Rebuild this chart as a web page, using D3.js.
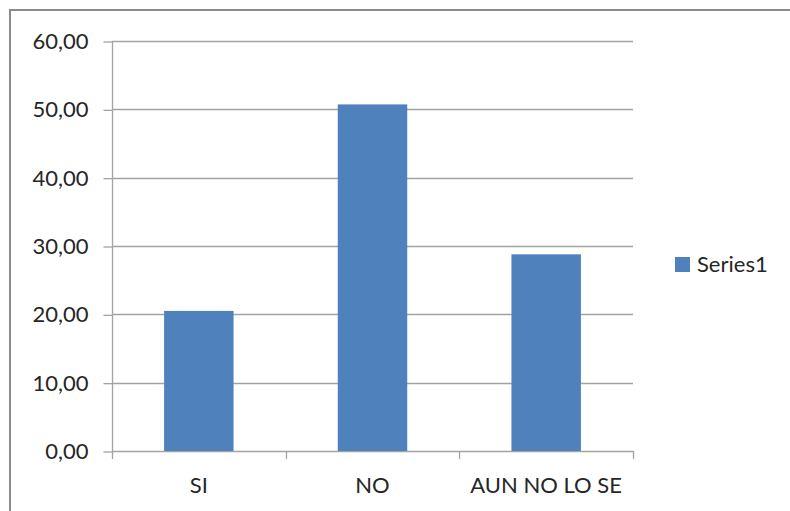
<!DOCTYPE html>
<html>
<head>
<meta charset="utf-8">
<script src="https://cdn.jsdelivr.net/npm/d3@7"></script>
<style>
  html, body { margin: 0; padding: 0; background: #fff; }
  svg { display: block; }
  text { font-family: Lato, "Open Sans", sans-serif; fill: #262626; }
</style>
</head>
<body>
<svg id="chart" width="790" height="511"></svg>
<script>
// Survey answers (percent)
const categories = ["SI", "NO", "AUN NO LO SE"];
const values = [20.50, 50.72, 28.78];
const yTicks = [0, 10, 20, 30, 40, 50, 60];
const seriesName = "Series1";

const W = 790, H = 511;
const plot = { left: 112, right: 633, top: 41, bottom: 451 };
const barColor = "#4f81bd";
const gridColor = "#a3a3a3";
const fontFamily = "Lato, 'Open Sans', sans-serif";
const fontSize = 22;

const svg = d3.select("#chart");

// outer chart frame (left and top edges visible)
svg.append("path")
  .attr("d", `M10,${H} L10,10 L${W},10`)
  .attr("fill", "none")
  .attr("stroke", "#8a8a8a")
  .attr("stroke-width", 2);

const fmt = d3.formatLocale({ decimal: ",", thousands: ".", grouping: [3], currency: ["", "€"] }).format(".2f");

const y = d3.scaleLinear().domain([0, 60]).range([plot.bottom, plot.top]);
const x = d3.scaleBand().domain(categories).range([plot.left, plot.right]).padding(0);

// horizontal gridlines
svg.append("g")
  .selectAll("line")
  .data(yTicks)
  .join("line")
  .attr("x1", plot.left)
  .attr("x2", plot.right)
  .attr("y1", d => Math.round(y(d)) + 0.5)
  .attr("y2", d => Math.round(y(d)) + 0.5)
  .attr("stroke", gridColor)
  .attr("stroke-width", 1.3);

// value axis
const yAxis = d3.axisLeft(y)
  .tickValues(yTicks)
  .tickFormat(fmt)
  .tickSizeInner(9)
  .tickSizeOuter(0)
  .tickPadding(15);

const gy = svg.append("g")
  .attr("transform", `translate(${plot.left + 0.5},0.5)`)
  .call(yAxis);
gy.select(".domain").remove();
gy.selectAll(".tick line").attr("stroke", gridColor).attr("stroke-width", 1.3);
gy.selectAll(".tick text")
  .attr("font-size", fontSize)
  .attr("font-family", fontFamily)
  .attr("fill", "#262626");

// vertical axis line
svg.append("line")
  .attr("x1", plot.left + 0.5).attr("x2", plot.left + 0.5)
  .attr("y1", plot.top).attr("y2", plot.bottom + 8)
  .attr("stroke", gridColor).attr("stroke-width", 1.3);

// category boundary ticks
const bounds = categories.map(c => x(c)).concat([plot.right]);
svg.append("g")
  .selectAll("line")
  .data(bounds.slice(1))
  .join("line")
  .attr("x1", d => Math.round(d) + 0.5)
  .attr("x2", d => Math.round(d) + 0.5)
  .attr("y1", plot.bottom)
  .attr("y2", plot.bottom + 8)
  .attr("stroke", gridColor)
  .attr("stroke-width", 1.3);

// bars
const barW = x.bandwidth() * 0.4;
svg.append("g")
  .selectAll("rect")
  .data(categories.map((c, i) => ({ c, v: values[i] })))
  .join("rect")
  .attr("x", d => x(d.c) + (x.bandwidth() - barW) / 2)
  .attr("width", barW)
  .attr("y", d => y(d.v))
  .attr("height", d => y(0) - y(d.v))
  .attr("fill", barColor);

// category labels
svg.append("g")
  .selectAll("text")
  .data(categories)
  .join("text")
  .attr("x", d => x(d) + x.bandwidth() / 2)
  .attr("y", 493)
  .attr("text-anchor", "middle")
  .attr("font-size", fontSize)
  .text(d => d);

// legend
const lg = svg.append("g").attr("transform", "translate(675,257)");
lg.append("rect").attr("width", 15).attr("height", 15).attr("fill", barColor);
lg.append("text").attr("x", 22).attr("y", 15).attr("font-size", fontSize).text(seriesName);
</script>
</body>
</html>
